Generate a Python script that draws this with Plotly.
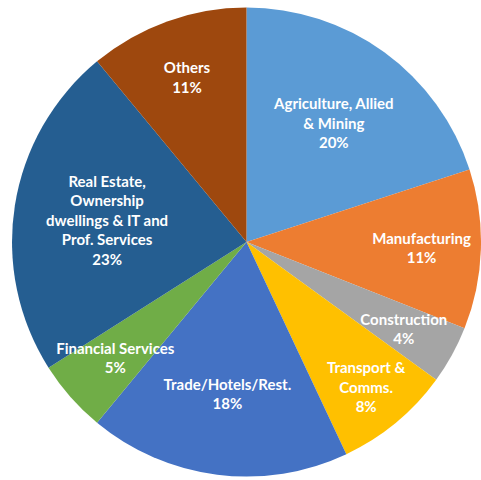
import plotly.graph_objects as go

# sector shares of GVA (%)
sectors = [
    "Agriculture, Allied<br>& Mining",
    "Manufacturing",
    "Construction",
    "Transport &<br>Comms.",
    "Trade/Hotels/Rest.",
    "Financial Services",
    "Real Estate,<br>Ownership<br>dwellings & IT and<br>Prof. Services",
    "Others",
]
shares = [20, 11, 4, 8, 18, 5, 23, 11]
colors = ["#5B9BD5", "#ED7D31", "#A5A5A5", "#FFC000",
          "#4472C4", "#70AD47", "#255E91", "#9E480E"]
# thin slices whose labels sit a little further in (like Excel's best fit)
inner_label = ["Construction", "Financial Services"]

label_font = dict(family="Lato", size=15, color="white", weight="bold")
tmpl = "%{label}<br>%{value}%"

fig = go.Figure()

# main pie
fig.add_trace(go.Pie(
    labels=sectors,
    values=shares,
    sort=False,
    direction="clockwise",
    rotation=0,
    marker=dict(colors=colors, line=dict(width=0)),
    texttemplate=["" if s in inner_label else tmpl for s in sectors],
    textposition="inside",
    insidetextorientation="horizontal",
    textfont=label_font,
    hovertemplate="%{label}: %{value}%<extra></extra>",
    domain=dict(x=[0.025, 1], y=[0.004, 0.9875]),
))

# transparent, smaller copy that only carries the labels of the thin slices
fig.add_trace(go.Pie(
    labels=sectors,
    values=shares,
    sort=False,
    direction="clockwise",
    rotation=0,
    marker=dict(colors=["rgba(0,0,0,0)"] * len(sectors), line=dict(width=0)),
    texttemplate=[tmpl if s in inner_label else "" for s in sectors],
    textposition="inside",
    insidetextorientation="horizontal",
    textfont=label_font,
    hoverinfo="skip",
    domain=dict(x=[0.0925, 0.9325], y=[0.075, 0.9166]),
))

fig.update_layout(
    width=481,
    height=480,
    margin=dict(l=0, r=0, t=0, b=0),
    showlegend=False,
    paper_bgcolor="white",
    uniformtext=dict(minsize=15, mode="show"),
)

# drop the default body margin so the 481x480 figure fills the window
fig.write_html("out.html",
               config={"displayModeBar": False},
               post_script="document.body.style.margin='0px';"
                           "document.body.style.overflow='hidden';")
